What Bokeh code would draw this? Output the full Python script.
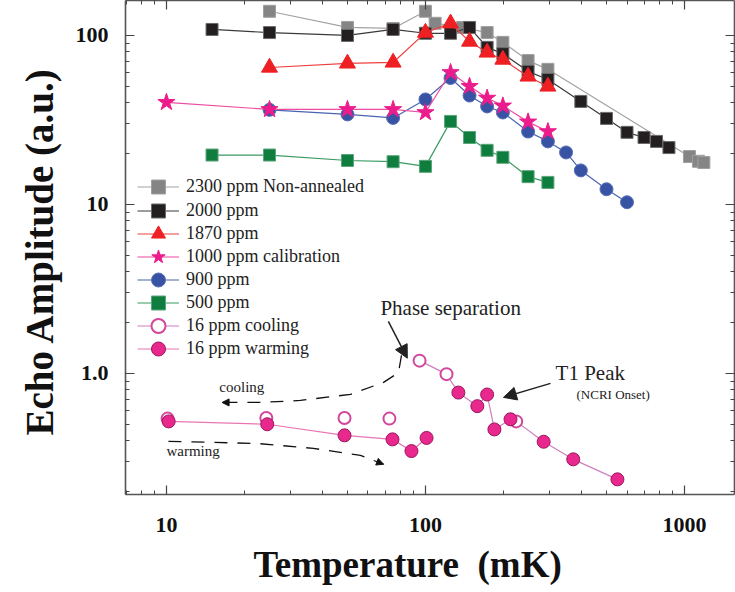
from bokeh.plotting import figure
from bokeh.models import (LogAxis, FixedTicker, Legend, LegendItem, Arrow,
                          NormalHead, Label, Title)
from bokeh.embed import file_html
from bokeh.resources import INLINE

# ---------------- data ----------------
t_2300 = [25, 50, 75, 100, 109, 139, 173, 199, 249, 297, 1045, 1132, 1188]
a_2300 = [139, 111.5, 110, 139, 118, 111.5, 104, 91, 71, 63, 19.2, 18.0, 17.7]

t_2000 = [15, 25, 50, 75, 100, 125, 148, 173, 199, 249, 297, 398, 500, 600, 698, 780, 871]
a_2000 = [108.5, 104, 100, 108.5, 103, 103, 111.5, 85, 78, 61.3, 54.9, 40.7, 32.3, 26.7, 24.9, 23.6, 21.7]

t_1870 = [25, 50, 75, 100, 125, 148, 173, 199, 249, 297]
a_1870 = [64.6, 68.3, 69.2, 104, 118, 92, 79.3, 72, 57.2, 49.9]

t_1000 = [10, 25, 50, 75, 100, 125, 148, 173, 199, 249, 297]
a_1000 = [40.2, 36.5, 36.5, 36.5, 35, 60.4, 50, 42.6, 38.3, 30.8, 27]

t_900 = [25, 50, 75, 100, 125, 148, 173, 199, 249, 297, 349, 398, 500, 600]
a_900 = [36.3, 34.1, 32.5, 41.8, 56, 44.1, 38, 35, 27, 23.6, 20.3, 15.9, 12.3, 10.3]

t_500 = [15, 25, 50, 75, 100, 125, 148, 173, 199, 249, 297]
a_500 = [19.6, 19.6, 18.2, 17.9, 16.8, 31, 24.9, 20.9, 19, 14.6, 13.5]

t_16_cool = [10.1, 24.3, 48.7, 72.6, 94.9, 120.6, 224]
a_16_cool = [0.54, 0.545, 0.545, 0.54, 1.19, 0.99, 0.52]

t_16_warm = [10.2, 24.5, 48.7, 74.6, 88.3, 101, 134, 158.6, 173, 184.6, 213, 286, 372, 551]
a_16_warm = [0.52, 0.50, 0.43, 0.407, 0.347, 0.415, 0.77, 0.64, 0.75, 0.466, 0.535, 0.394, 0.31, 0.236]

x_major = [10, 100, 1000]
x_labels = {10: "10", 100: "100", 1000: "1000"}
y_major = [1, 10, 100]
y_labels = {1: "1.0", 10: "10", 100: "100"}

# annotation geometry (data coordinates)
cool_curve_t = [80.8, 78.7, 68.9, 51.3, 32.9, 23.1, 16.4]
cool_curve_a = [1.278, 1.01, 0.885, 0.751, 0.692, 0.673, 0.673]
warm_curve_t = [10.18, 22.4, 36.9, 56.1, 68.9]
warm_curve_a = [0.396, 0.385, 0.36, 0.327, 0.29]

# ---------------- figure ----------------
SERIF = "Liberation Serif"
p = figure(width=735, height=592, x_axis_type="log", y_axis_type="log",
           x_range=(6.95, 1560), y_range=(0.192, 161),
           output_backend="svg", toolbar_location=None,
           min_border_left=125, min_border_right=1, min_border_top=0,
           min_border_bottom=98)
p.grid.visible = False
p.outline_line_color = None
p.background_fill_color = "white"
p.border_fill_color = "white"

minor_x = [m * 10 ** e for e in range(0, 4) for m in range(2, 10)]
minor_y = [m * 10 ** e for e in range(-1, 3) for m in range(2, 10)]
xt = FixedTicker(ticks=x_major, minor_ticks=minor_x)
yt = FixedTicker(ticks=y_major, minor_ticks=minor_y)


def style_axis(ax, labels=None, standoff=17):
    ax.major_tick_in = 9
    ax.major_tick_out = 0
    ax.minor_tick_in = 4
    ax.minor_tick_out = 0
    ax.axis_line_color = "#555555"
    ax.axis_line_width = 1.6
    ax.major_tick_line_color = "#444444"
    ax.minor_tick_line_color = "#444444"
    ax.major_tick_line_width = 1.2
    ax.minor_tick_line_width = 1.0
    if labels is None:
        ax.major_label_text_font_size = "1px"
        ax.major_label_text_alpha = 0
        ax.major_label_standoff = 0
    else:
        ax.major_label_overrides = labels
        ax.major_label_text_font = SERIF
        ax.major_label_text_font_style = "bold"
        ax.major_label_text_font_size = "22px"
        ax.major_label_text_color = "#111111"
        ax.major_label_standoff = standoff


p.xaxis.ticker = xt
p.yaxis.ticker = yt
style_axis(p.xaxis[0], x_labels, 23)
style_axis(p.yaxis[0], y_labels, 17)

top = LogAxis(ticker=xt)
style_axis(top)
p.add_layout(top, "above")
right = LogAxis(ticker=yt)
style_axis(right)
p.add_layout(right, "right")

p.add_layout(Title(text="Temperature\u00a0 (mK)", align="left", offset=128, standoff=14,
                   text_font=SERIF, text_font_size="37px",
                   text_font_style="bold", text_color="#111111"), "below")
p.add_layout(Title(text="Echo Amplitude (a.u.)", align="left", offset=59, standoff=24,
                   text_font=SERIF, text_font_size="39px",
                   text_font_style="bold", text_color="#111111"), "left")

# ---------------- series ----------------
items = []


def series(label, t, a, marker, size, fill, mline, lcol, lw=1.2, mlw=1.0):
    lr = p.line(t, a, line_color=lcol, line_width=lw)
    sr = p.scatter(t, a, marker=marker, size=size, fill_color=fill,
                   line_color=mline, line_width=mlw)
    items.append(LegendItem(label=label, renderers=[lr, sr]))


series("2300 ppm Non-annealed", t_2300, a_2300, "square", 12, "#858585", "#a0a0a0", "#a3a3a3")
series("2000 ppm", t_2000, a_2000, "square", 12, "#231f20", "#6a6a6a", "#3a3a3a")
series("1870 ppm", t_1870, a_1870, "triangle", 16, "#ee2024", "#ee2024", "#ef3f3f")
r900_line = p.line(t_900, a_900, line_color="#4a64b0", line_width=1.2)
r900_sc = p.scatter(t_900, a_900, marker="circle", size=13, fill_color="#3953a4",
                    line_color="#5670b8", line_width=1.0)
series("1000 ppm calibration", t_1000, a_1000, "star", 18, "#ec1c8c", "#ec1c8c", "#ee4aa0")
items.insert(4, LegendItem(label="900 ppm", renderers=[r900_line, r900_sc]))
series("500 ppm", t_500, a_500, "square", 12, "#0f7d3e", "#5aa57a", "#3a9a62")

# 16 ppm: low-temperature warming branch, high-temperature common branch
lo = [(t, a) for t, a in zip(t_16_warm, a_16_warm) if t <= 110]
hi = sorted([(t, a) for t, a in zip(t_16_cool, a_16_cool) if t > 90] +
            [(t, a) for t, a in zip(t_16_warm, a_16_warm) if t > 130])
hi_line = p.line([q[0] for q in hi], [q[1] for q in hi], line_color="#cf7fbf", line_width=1.2)
lo_line = p.line([q[0] for q in lo], [q[1] for q in lo], line_color="#e0479a", line_width=1.2,
                 line_alpha=0.75)
cool_sc = p.scatter(t_16_cool, a_16_cool, marker="circle", size=12, fill_color="white",
                    line_color="#d2479b", line_width=2)
warm_sc = p.scatter(t_16_warm, a_16_warm, marker="circle", size=13, fill_color="#e8288c",
                    line_color="#9c1660", line_width=1.0)
items.append(LegendItem(label="16 ppm cooling", renderers=[hi_line, cool_sc]))
items.append(LegendItem(label="16 ppm warming", renderers=[lo_line, warm_sc]))

# one legend block per entry so that entries sit 23 px apart with full-size markers
ROW0, ROW_STEP, BOX_H = 187, 23.1, 35
for i, it in enumerate(items):
    row_center = ROW0 + i * ROW_STEP
    lg = Legend(items=[it], location=(12, round(494 - row_center - BOX_H / 2)),
                padding=0, margin=0, spacing=0,
                glyph_width=42, glyph_height=BOX_H, label_height=20, label_standoff=7,
                label_text_font=SERIF, label_text_font_size="18px",
                label_text_color="#222222", background_fill_alpha=0,
                border_line_alpha=0)
    p.add_layout(lg, "center")

# ---------------- annotations ----------------
p.line(cool_curve_t, cool_curve_a, line_color="#111111", line_width=1.3, line_dash="13 10")
p.add_layout(Arrow(x_start=cool_curve_t[-2], y_start=cool_curve_a[-2],
                   x_end=cool_curve_t[-1], y_end=cool_curve_a[-1], line_alpha=0,
                   end=NormalHead(size=7, fill_color="#111111", line_color="#111111")))
p.line(warm_curve_t, warm_curve_a, line_color="#111111", line_width=1.3, line_dash="13 10")
p.add_layout(Arrow(x_start=warm_curve_t[-2], y_start=warm_curve_a[-2],
                   x_end=warm_curve_t[-1], y_end=warm_curve_a[-1], line_alpha=0,
                   end=NormalHead(size=7, fill_color="#111111", line_color="#111111")))

p.add_layout(Arrow(x_start=71.9, y_start=2.03, x_end=85.1, y_end=1.23,
                   line_color="#222222", line_width=1.5,
                   end=NormalHead(size=13, fill_color="#222222", line_color="#222222")))
p.add_layout(Arrow(x_start=304, y_start=0.873, x_end=200, y_end=0.721,
                   line_color="#222222", line_width=1.5,
                   end=NormalHead(size=13, fill_color="#222222", line_color="#222222")))

def lab(x, y, text, size):
    p.add_layout(Label(x=x, y=y, text=text, text_font=SERIF, text_font_size=size,
                       text_color="#222222", text_baseline="middle", text_align="left"))

lab(67, 2.43, "Phase separation", "21px")
lab(318, 1.01, "T1 Peak", "21px")
lab(383, 0.751, "(NCRI Onset)", "13px")
lab(16.0, 0.826, "cooling", "15px")
lab(10.0, 0.3455, "warming", "15px")

open("out.html", "w").write(file_html(p, INLINE))
